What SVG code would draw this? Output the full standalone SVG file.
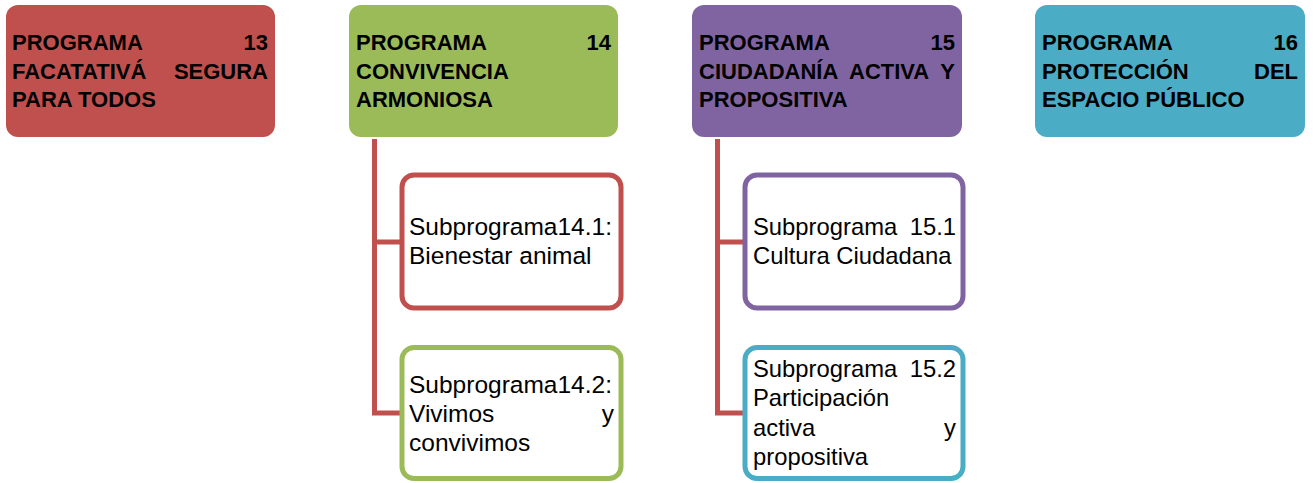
<svg xmlns="http://www.w3.org/2000/svg" width="1315" height="483" viewBox="0 0 1315 483">
<style>
.prog{stroke:none}
.sub{fill:#FFFFFF;stroke-width:5}
.pt{font-family:"Liberation Sans",Arial,sans-serif;font-weight:bold;font-size:22px;fill:#000000}
.st{font-family:"Liberation Sans",Arial,sans-serif;font-size:24.5px;fill:#000000}
.sm{font-size:23.8px}
.conn{fill:none;stroke:#C0504D;stroke-width:5;stroke-linejoin:miter}
.e{text-anchor:end}
</style>
<rect width="1315" height="483" fill="#FFFFFF"/>
<g id="connectors">
<path class="conn" d="M374.5,139 V413 H402 M374.5,242 H402"/>
<path class="conn" d="M717.5,139 V413 H745 M717.5,242 H745"/>
</g>
<g id="p13">
<rect class="prog" x="6" y="5" width="269" height="132" rx="12" fill="#C0504D"/>
<text class="pt" x="12" y="50">PROGRAMA</text><text class="pt e" x="268" y="50">13</text>
<text class="pt" x="12" y="78.5">FACATATIVÁ</text><text class="pt e" x="268" y="78.5">SEGURA</text>
<text class="pt" x="12" y="107">PARA TODOS</text>
</g>
<g id="p14">
<rect class="prog" x="349" y="5" width="269" height="132" rx="12" fill="#9BBB59"/>
<text class="pt" x="356" y="50">PROGRAMA</text><text class="pt e" x="611" y="50">14</text>
<text class="pt" x="356" y="78.5">CONVIVENCIA</text>
<text class="pt" x="356" y="107">ARMONIOSA</text>
</g>
<g id="p15">
<rect class="prog" x="692" y="5" width="270" height="132" rx="12" fill="#8064A2"/>
<text class="pt" x="699" y="50">PROGRAMA</text><text class="pt e" x="955" y="50">15</text>
<text class="pt" x="699" y="78.5">CIUDADANÍA</text><text class="pt" x="849" y="78.5">ACTIVA</text><text class="pt e" x="955" y="78.5">Y</text>
<text class="pt" x="699" y="107">PROPOSITIVA</text>
</g>
<g id="p16">
<rect class="prog" x="1035" y="5" width="270" height="132" rx="12" fill="#4BACC6"/>
<text class="pt" x="1042" y="50">PROGRAMA</text><text class="pt e" x="1298" y="50">16</text>
<text class="pt" x="1042" y="78.5">PROTECCIÓN</text><text class="pt e" x="1298" y="78.5">DEL</text>
<text class="pt" x="1042" y="107">ESPACIO PÚBLICO</text>
</g>
<g id="s141">
<rect class="sub" x="402" y="175" width="219" height="133" rx="12" stroke="#C0504D"/>
<text class="st" x="409" y="235">Subprograma14.1:</text>
<text class="st" x="409" y="263.5">Bienestar animal</text>
</g>
<g id="s142">
<rect class="sub" x="402" y="347.5" width="219" height="131" rx="12" stroke="#9BBB59"/>
<text class="st" x="409" y="392.5">Subprograma14.2:</text>
<text class="st" x="409" y="421.5">Vivimos</text><text class="st e" x="614" y="421.5">y</text>
<text class="st" x="409" y="450.5">convivimos</text>
</g>
<g id="s151">
<rect class="sub" x="745" y="175" width="218" height="133" rx="12" stroke="#8064A2"/>
<text class="st sm" x="753" y="235">Subprograma</text><text class="st sm e" x="956" y="235">15.1</text>
<text class="st sm" x="753" y="264">Cultura Ciudadana</text>
</g>
<g id="s152">
<rect class="sub" x="745" y="347.5" width="218" height="131" rx="12" stroke="#4BACC6"/>
<text class="st sm" x="753" y="377">Subprograma</text><text class="st sm e" x="956" y="377">15.2</text>
<text class="st sm" x="753" y="406">Participación</text>
<text class="st sm" x="753" y="435.5">activa</text><text class="st sm e" x="956" y="435.5">y</text>
<text class="st sm" x="753" y="465">propositiva</text>
</g>
</svg>
